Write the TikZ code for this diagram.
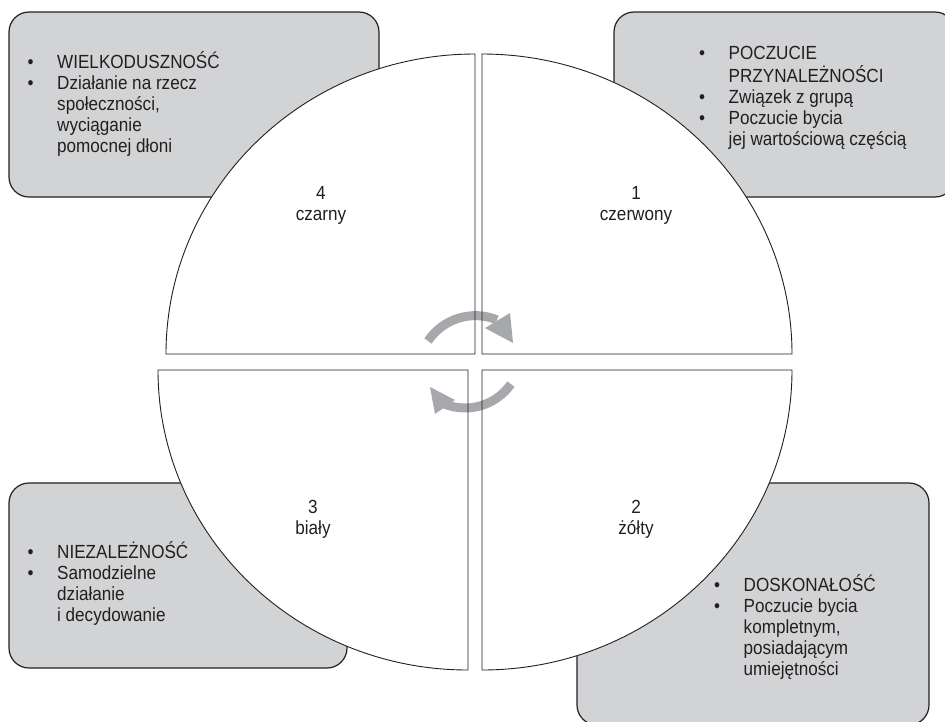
\documentclass[tikz,border=0pt]{standalone}
\usepackage{fontspec}
\setmainfont{Liberation Sans}[FakeStretch=0.9]
\definecolor{boxfill}{RGB}{209,211,212}
\definecolor{ink}{RGB}{35,31,32}
\definecolor{arrowgray}{RGB}{166,168,171}
\newcommand\qbul{\makebox[29.5pt][l]{•}}
\newcommand\qind{\makebox[29.5pt][l]{}}
\begin{document}
\begin{tikzpicture}[x=1pt,y=-1pt,
  infobox/.style={draw=ink, fill=boxfill, line width=1.2pt, rounded corners=20pt},
  quadfill/.style={fill=white},
  quadline/.style={draw=ink, line width=0.9pt},
  txt/.style={inner sep=0pt, text=ink, font=\fontsize{19}{21}\selectfont},
  cyc/.style={draw=arrowgray, line width=9pt},
  cychead/.style={fill=arrowgray}
]
\useasboundingbox (0,0) rectangle (945,721);
\clip (0,0) rectangle (945,721);

% info boxes (behind)
\draw[infobox] (9,12) rectangle (379,197);
\draw[infobox] (614,12) rectangle (955,197);
\draw[infobox] (9,483) rectangle (347,668);
\draw[infobox] (577,483) rectangle (929,725);

% quadrant fills
\fill[quadfill] (475,354) -- (475,54) arc[start angle=90, end angle=180, x radius=309pt, y radius=300pt] -- cycle;
\fill[quadfill] (482,354) -- (482,54) arc[start angle=90, end angle=0, x radius=310pt, y radius=300pt] -- cycle;
\fill[quadfill] (468,370) -- (468,670) arc[start angle=-90, end angle=-180, x radius=310pt, y radius=300pt] -- cycle;
\fill[quadfill] (482,370) -- (482,670) arc[start angle=-90, end angle=0, x radius=310pt, y radius=300pt] -- cycle;

% cycle arrows
\draw[cyc] (428,341) arc[start angle=146.3, end angle=67.7, radius=57pt];
\fill[cychead] (485,328) -- (510,313) -- (513,343) -- cycle;
\draw[cyc] (510.9,384.1) arc[start angle=-35, end angle=-111, radius=56pt];
\fill[cychead] (455,400) -- (435,414) -- (430,387) -- cycle;

% quadrant outlines
\draw[quadline] (475,354) -- (475,54) arc[start angle=90, end angle=180, x radius=309pt, y radius=300pt] -- cycle;
\draw[quadline] (482,354) -- (482,54) arc[start angle=90, end angle=0, x radius=310pt, y radius=300pt] -- cycle;
\draw[quadline] (468,370) -- (468,670) arc[start angle=-90, end angle=-180, x radius=310pt, y radius=300pt] -- cycle;
\draw[quadline] (482,370) -- (482,670) arc[start angle=-90, end angle=0, x radius=310pt, y radius=300pt] -- cycle;

% quadrant labels
\node[txt, anchor=base] (l4) at (321,199) {\begin{tabular}[t]{@{}c@{}}4\\czarny\end{tabular}};
\node[txt, anchor=base] (l1) at (636,199) {\begin{tabular}[t]{@{}c@{}}1\\czerwony\end{tabular}};
\node[txt, anchor=base] (l3) at (313,513) {\begin{tabular}[t]{@{}c@{}}3\\biały\end{tabular}};
\node[txt, anchor=base] (l2) at (636,513) {\begin{tabular}[t]{@{}c@{}}2\\żółty\end{tabular}};

% box texts
\node[txt, anchor=base west] (t4) at (27.5,68) {\begin{tabular}[t]{@{}l@{}}\qbul WIELKODUSZNOŚĆ\\\qbul Działanie na rzecz\\\qind społeczności,\\\qind wyciąganie\\\qind pomocnej dłoni\end{tabular}};
\node[txt, anchor=base west] (t1) at (699,59) {\begin{tabular}[t]{@{}l@{}}\qbul POCZUCIE\\\qind PRZYNALEŻNOŚCI\\\qbul Związek z grupą\\\qbul Poczucie bycia\\\qind jej wartościową częścią\end{tabular}};
\node[txt, anchor=base west] (t3) at (27.5,558) {\begin{tabular}[t]{@{}l@{}}\qbul NIEZALEŻNOŚĆ\\\qbul Samodzielne\\\qind działanie\\\qind i decydowanie\end{tabular}};
\node[txt, anchor=base west] (t2) at (714,591) {\begin{tabular}[t]{@{}l@{}}\qbul DOSKONAŁOŚĆ\\\qbul Poczucie bycia\\\qind kompletnym,\\\qind posiadającym\\\qind umiejętności\end{tabular}};
\end{tikzpicture}
\end{document}
